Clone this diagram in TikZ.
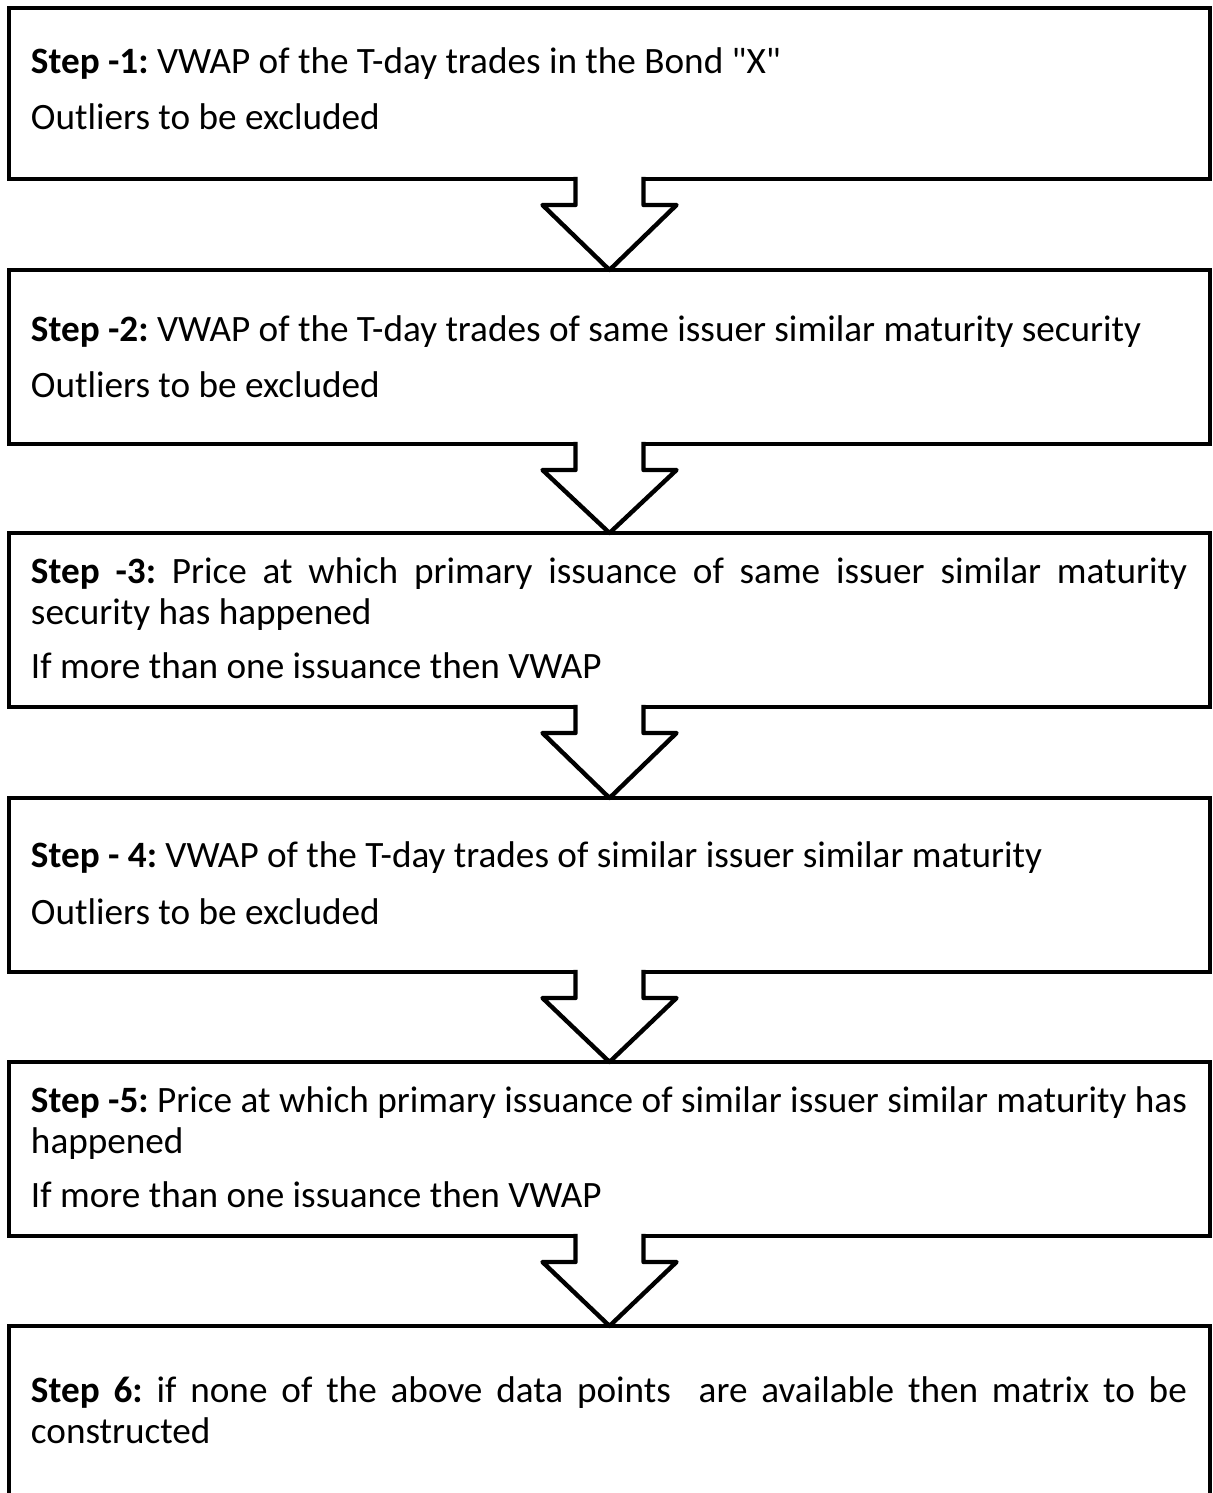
\documentclass[tikz,border=0pt]{standalone}
\usepackage{fontspec}
\setmainfont{Carlito}[Ligatures=TeXOff]
\usetikzlibrary{calc}
\newcommand\blockarr[2]{%
  \fill[white] ($(#1.south)+(-34,-3.5)$) rectangle ($(#1.south)+(34,3.5)$);
  \draw[arrowline] ($(#1.south)+(-34,-2.2)$) -- ($(#1.south)+(-34,26)$)
    -- ($(#1.south)+(-67,26)$) -- (#2.north) -- ($(#1.south)+(67,26)$)
    -- ($(#1.south)+(34,26)$) -- ($(#1.south)+(34,-2.2)$);
}
\begin{document}
\frenchspacing
\begin{tikzpicture}[x=0.5pt,y=-0.5pt,
  box/.style={draw, line width=2.3pt, rectangle, outer sep=0pt, inner sep=0pt, minimum width=600.5pt},
  arrowline/.style={line width=2.2pt, line join=round},
  txt/.style={anchor=base west, inner sep=0pt, outer sep=0pt, font=\fontsize{18.6pt}{20.5pt}\selectfont\frenchspacing}]
\path[use as bounding box] (0,0) rectangle (1212,1493);
\fill[white] (0,0) rectangle (1212,1493);
\clip (0,0) rectangle (1212,1493);
% boxes
\node[box, minimum height=85.5pt] (b1) at (609.5,93.5) {};
\node[box, minimum height=87pt] (b2) at (609.5,357) {};
\node[box, minimum height=87pt] (b3) at (609.5,620) {};
\node[box, minimum height=87pt] (b4) at (609.5,885) {};
\node[box, minimum height=87pt] (b5) at (609.5,1149) {};
\node[box, minimum height=107pt] (b6) at (609.5,1433) {};
% arrows
\blockarr{b1}{b2}
\blockarr{b2}{b3}
\blockarr{b3}{b4}
\blockarr{b4}{b5}
\blockarr{b5}{b6}
% texts
\node[txt] (t1a) at (31,74) {\textbf{Step -1:} VWAP of the T-day trades in the Bond "X"};
\node[txt] (t1b) at (31,130) {Outliers to be excluded};
\node[txt] (t2a) at (31,341) {\textbf{Step -2:} VWAP of the T-day trades of same issuer similar maturity security};
\node[txt] (t2b) at (31,397) {Outliers to be excluded};
\node[txt] (t3a) at (31,583) {\makebox[578pt][s]{\textbf{Step -3:} Price at which primary issuance of same issuer similar maturity}};
\node[txt] (t3b) at (31,624) {security has happened};
\node[txt] (t3c) at (31,678) {If more than one issuance then VWAP};
\node[txt] (t4a) at (31,867) {\textbf{Step - 4:} VWAP of the T-day trades of similar issuer similar maturity};
\node[txt] (t4b) at (31,924) {Outliers to be excluded};
\node[txt] (t5a) at (31,1112) {\makebox[578pt][s]{\textbf{Step -5:} Price at which primary issuance of similar issuer similar maturity has}};
\node[txt] (t5b) at (31,1153) {happened};
\node[txt] (t5c) at (31,1207) {If more than one issuance then VWAP};
\node[txt] (t6a) at (31,1402) {\makebox[578pt][s]{\textbf{Step 6:} if none of the above data points~ are available then matrix to be}};
\node[txt] (t6b) at (31,1443) {constructed};
\end{tikzpicture}
\end{document}
